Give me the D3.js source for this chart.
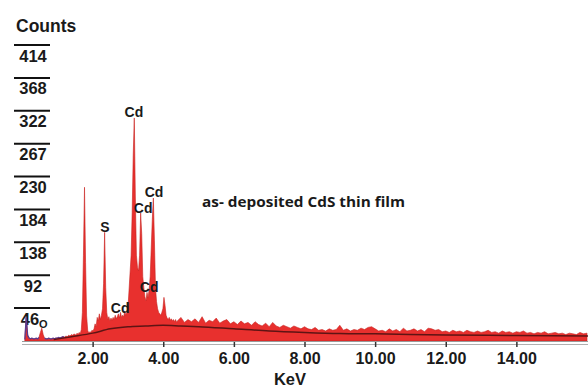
<!DOCTYPE html>
<html><head><meta charset="utf-8">
<script src="https://cdn.jsdelivr.net/npm/d3@7"></script>
<style>body{margin:0;background:#fff} svg{display:block}</style>
</head><body>
<svg id="c" width="588" height="389"></svg>
<script>
// ---- data ----
const yTickValues = [46, 92, 138, 184, 230, 276, 322, 368, 414];
const yTickLabels = ["46", "92", "138", "184", "230", "267", "322", "368", "414"];
const xTickValues = [2, 4, 6, 8, 10, 12, 14];
const xTickLabels = ["2.00", "4.00", "6.00", "8.00", "10.00", "12.00", "14.00"];

// spectrum, low-energy channels (keV = lowStart + i*lowStep)
const lowStart = 0.08, lowStep = 0.04;
const lowCounts = [2,33,8,4,3,4,3,3,4,3,5,12,18,9,4,3,3,4,3,3,4,3,4,4,5,4,5,6,5,7,6,8,7,9,8,10];
// peak region channels
const peakStart = 1.50, peakStep = 0.03;
const peakCounts = [9,8,11,9,12,10,16,40,120,215,110,35,15,11,13,12,15,14,17,24,
  20,33,28,38,30,36,45,80,152,75,40,30,34,28,32,29,33,30,36,31,
  34,38,32,40,33,36,34,42,36,40,46,70,95,120,180,260,312,200,120,103,
  98,120,179,150,90,75,62,56,68,60,72,90,130,170,200,140,75,55,45,40,
  38,36,40,45,61,50,36,32,30,33,29,31,28,30,27,30,26];
// high-energy channels
const highStart = 4.4, highStep = 0.1;
const highCounts = [28,33,26,30,27,31,26,34,25,29,27,32,25,28,30,24,27,23,28,24,
  26,22,27,23,21,25,20,26,21,19,22,20,18,21,19,17,20,17,16,19,
  15,16,14,17,15,16,22,15,17,14,16,15,18,16,19,20,17,14,15,13,
  17,14,16,13,18,14,15,17,14,16,13,18,17,15,16,13,14,12,15,13,
  14,12,15,13,12,14,12,13,15,12,13,11,14,12,13,11,13,12,14,11,
  12,10,12,11,13,10,11,12,10,11,9,11,10,9,12,10,11];

// background (bremsstrahlung) curve
const bgKeV = [0.9, 1.4, 2.0, 2.5, 3.0, 3.5, 4.0, 4.5, 5, 6, 7, 8, 9, 10, 12, 14, 16.1];
const bgCounts = [2, 6, 11, 17, 20, 21, 22, 21, 20, 17, 14, 12, 10.5, 10, 8.5, 7.7, 7];

// peak labels (anchored at keV / count of text baseline)
const labelText = ["Cd", "Cd", "Cd", "Cd", "Cd", "S", "O"];
const labelKeV = [3.17, 3.43, 3.74, 3.60, 2.78, 2.35, 0.60];
const labelCount = [313, 179, 201, 68.5, 39, 152, 18];
const noteText = "as- deposited CdS thin film";
const noteKeV = 5.10, noteCount = 187;

// ---- build ----
const spectrum = [];
lowCounts.forEach((c, i) => spectrum.push({e: +(lowStart + i * lowStep).toFixed(3), c}));
peakCounts.forEach((c, i) => spectrum.push({e: +(peakStart + i * peakStep).toFixed(3), c}));
highCounts.forEach((c, i) => spectrum.push({e: +(highStart + i * highStep).toFixed(3), c}));
const bg = bgKeV.map((e, i) => ({e, c: bgCounts[i]}));

const svg = d3.select("#c");
const x = d3.scaleLinear().domain([0, 16]).range([22, 587]);
const y = d3.scaleLinear().domain([0, 414]).range([341, 45]);
const bold = "Arial, 'Liberation Sans', sans-serif";

// y ticks (overline style)
const yt = svg.append("g");
yTickValues.forEach((v, i) => {
  yt.append("line").attr("x1", 14).attr("x2", 50).attr("y1", y(v)).attr("y2", y(v))
    .attr("stroke", "#111").attr("stroke-width", 2);
  yt.append("text").attr("x", v === 46 ? 30 : 33).attr("y", y(v) + 16.5).attr("text-anchor", "middle")
    .attr("font-family", bold).attr("font-weight", "bold").attr("font-size", 16.5)
    .attr("fill", "#1a1a1a").text(yTickLabels[i]);
});
svg.append("text").attr("x", 16).attr("y", 32).attr("font-family", bold)
  .attr("font-weight", "bold").attr("font-size", 17.5).attr("fill", "#1a1a1a").text("Counts");

// spectrum area
const area = d3.area().x(d => x(d.e)).y0(y(0)).y1(d => y(d.c)).curve(d3.curveLinear);
svg.append("path").datum(spectrum).attr("d", area)
  .attr("fill", "#e8302e").attr("stroke", "#c8221f").attr("stroke-width", 0.6);

// purple low-energy trace
const line = d3.line().x(d => x(d.e)).y(d => y(d.c));
svg.append("path").datum(spectrum.filter(d => d.e <= 0.49)).attr("d", line)
  .attr("fill", "none").attr("stroke", "#5a3b8e").attr("stroke-width", 1.3);
svg.append("path").datum(spectrum.filter(d => d.e >= 0.63 && d.e <= 1.2)).attr("d", line)
  .attr("fill", "none").attr("stroke", "#5a3b8e").attr("stroke-width", 1.3);

// background curve
svg.append("path").datum(bg).attr("d", d3.line().x(d => x(d.e)).y(d => y(d.c)).curve(d3.curveMonotoneX))
  .attr("fill", "none").attr("stroke", "#5e1414").attr("stroke-width", 1.5);

// x axis (double grey line)
svg.append("line").attr("x1", 22).attr("x2", 588).attr("y1", 341.5).attr("y2", 341.5)
  .attr("stroke", "#9a9a9a").attr("stroke-width", 1);
svg.append("line").attr("x1", 22).attr("x2", 588).attr("y1", 344.5).attr("y2", 344.5)
  .attr("stroke", "#b0b0b0").attr("stroke-width", 1);
const xa = svg.append("g").attr("transform", "translate(0,342)")
  .call(d3.axisBottom(x).tickValues(xTickValues).tickFormat((d, i) => xTickLabels[i]).tickSize(5).tickPadding(6));
xa.select(".domain").remove();
xa.selectAll(".tick line").attr("stroke", "#333").attr("stroke-width", 1.5);
xa.selectAll(".tick text").attr("font-family", bold).attr("font-weight", "bold")
  .attr("font-size", 16).attr("fill", "#1a1a1a");
svg.append("text").attr("x", 290).attr("y", 385).attr("text-anchor", "middle")
  .attr("font-family", bold).attr("font-weight", "bold").attr("font-size", 16.5).attr("fill", "#1a1a1a").text("KeV");

// peak labels
labelText.forEach((t, i) => {
  svg.append("text").attr("x", x(labelKeV[i])).attr("y", y(labelCount[i])).attr("text-anchor", "middle")
    .attr("font-family", bold).attr("font-weight", "bold").attr("font-size", t === "O" ? 11 : 14)
    .attr("fill", "#1a1a1a").text(t);
});
svg.append("text").attr("x", x(noteKeV)).attr("y", y(noteCount))
  .attr("font-family", "'Open Sans', Lato, sans-serif").attr("font-weight", "bold").attr("font-size", 13.5)
  .attr("textLength", 203).attr("lengthAdjust", "spacingAndGlyphs")
  .attr("fill", "#1a1a1a").text(noteText);
</script>
</body></html>
